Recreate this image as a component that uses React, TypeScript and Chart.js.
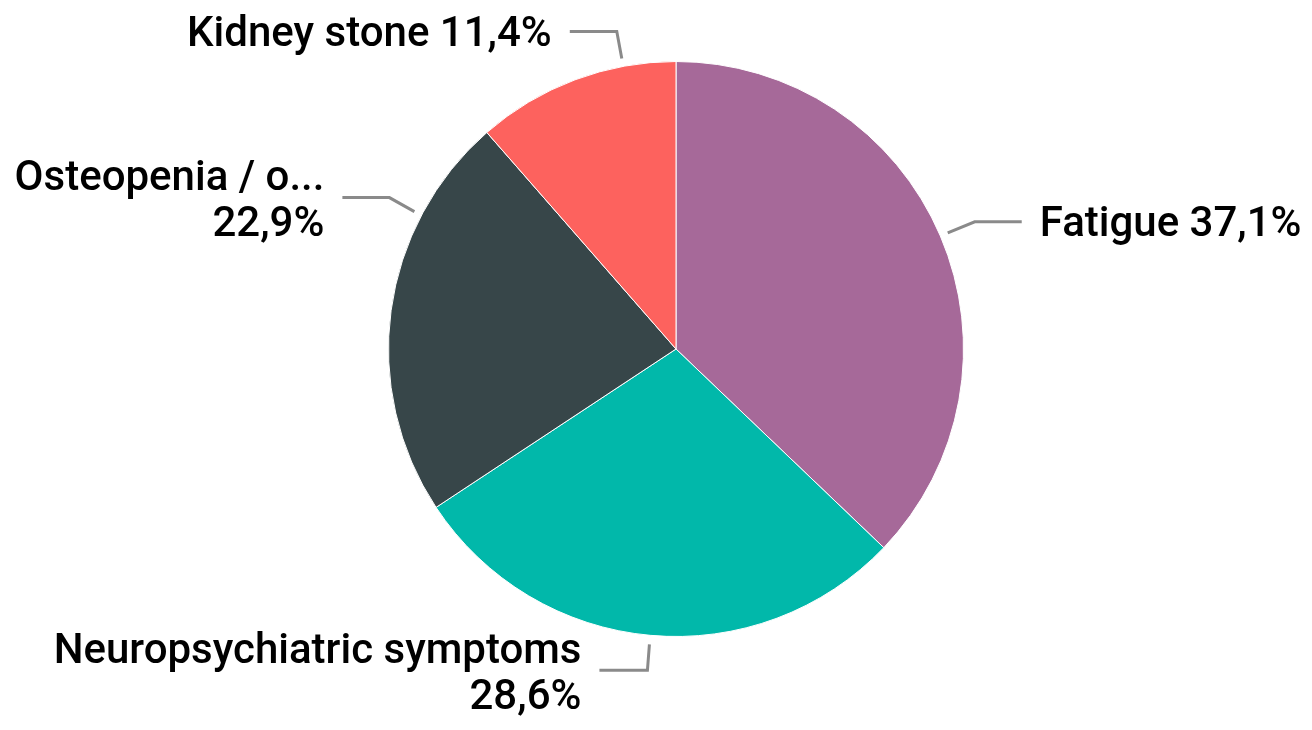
import React, { useEffect, useRef } from "react";
import { Chart, registerables } from "chart.js";

Chart.register(...registerables);

const categories = ["Fatigue", "Neuropsychiatric symptoms", "Osteopenia / o...", "Kidney stone"];
const counts = [13, 10, 8, 4];
const colors = ["#A66999", "#01B8AA", "#374649", "#FD625E"];

// label layout: angular shift of leader start (deg), gap from edge, elbow offset, end offset, split into two lines
const labelLayout = [
  { shift: 0, gap: 8, elbow: [27, -11], end: [74, -11], align: "left", twoLines: false },
  { shift: 0, gap: 9, elbow: [-2, 26], end: [-50, 26], align: "right", twoLines: true },
  { shift: 20, gap: 8, elbow: [-25, -14], end: [-72, -14], align: "right", twoLines: true },
  { shift: 10, gap: 8, elbow: [-5, -27], end: [-52, -27], align: "right", twoLines: false },
];

const FONT = "500 42px Roboto, 'DejaVu Sans Condensed', sans-serif";

const fmtPct = (v: number, total: number) => ((v / total) * 100).toFixed(1).replace(".", ",") + "%";

const labelPlugin = {
  id: "outLabels",
  afterDatasetsDraw(chart: any) {
    const ctx = chart.ctx as CanvasRenderingContext2D;
    const meta = chart.getDatasetMeta(0);
    const data = chart.data.datasets[0].data as number[];
    const total = data.reduce((a, b) => a + b, 0);
    meta.data.forEach((arc: any, i: number) => {
      const lay = labelLayout[i];
      const { startAngle, endAngle, x, y, outerRadius } = arc.getProps(
        ["startAngle", "endAngle", "x", "y", "outerRadius"],
        true
      );
      const a = (startAngle + endAngle) / 2 + (lay.shift * Math.PI) / 180;
      const R = outerRadius + lay.gap;
      const sx = x + Math.cos(a) * R;
      const sy = y + Math.sin(a) * R;
      const ex = sx + lay.elbow[0];
      const ey = sy + lay.elbow[1];
      const tx = sx + lay.end[0];
      const ty = sy + lay.end[1];
      ctx.save();
      ctx.strokeStyle = "#8a8a8a";
      ctx.lineWidth = 3;
      ctx.lineJoin = "miter";
      ctx.beginPath();
      ctx.moveTo(sx, sy);
      ctx.lineTo(ex, ey);
      ctx.lineTo(tx, ty);
      ctx.stroke();
      ctx.fillStyle = "#000";
      ctx.font = FONT;
      ctx.textBaseline = "middle";
      const left = lay.align === "left";
      ctx.textAlign = left ? "left" : "right";
      const lx = tx + (left ? 18 : -18);
      const name = chart.data.labels[i];
      const pct = fmtPct(data[i], total);
      if (lay.twoLines) {
        ctx.fillText(name, lx, ty - 18);
        ctx.fillText(pct, lx, ty + 28);
      } else {
        ctx.fillText(name + " " + pct, lx, ty + 4);
      }
      ctx.restore();
    });
  },
};

export default function App() {
  const ref = useRef<HTMLCanvasElement>(null);
  useEffect(() => {
    document.body.style.margin = "0";
    const chart = new Chart(ref.current!, {
      type: "pie",
      data: {
        labels: categories,
        datasets: [
          {
            data: counts,
            backgroundColor: colors,
            borderColor: "#ffffff",
            borderWidth: 1,
          },
        ],
      },
      options: {
        responsive: false,
        animation: false,
        layout: { padding: { top: 61, bottom: 93, left: 388, right: 348 } },
        plugins: { legend: { display: false }, tooltip: { enabled: false } },
      },
      plugins: [labelPlugin],
    });
    return () => chart.destroy();
  }, []);
  return (
    <div style={{ width: 1312, height: 730, background: "#fff" }}>
      <canvas ref={ref} width={1312} height={730} style={{ display: "block" }} />
    </div>
  );
}
